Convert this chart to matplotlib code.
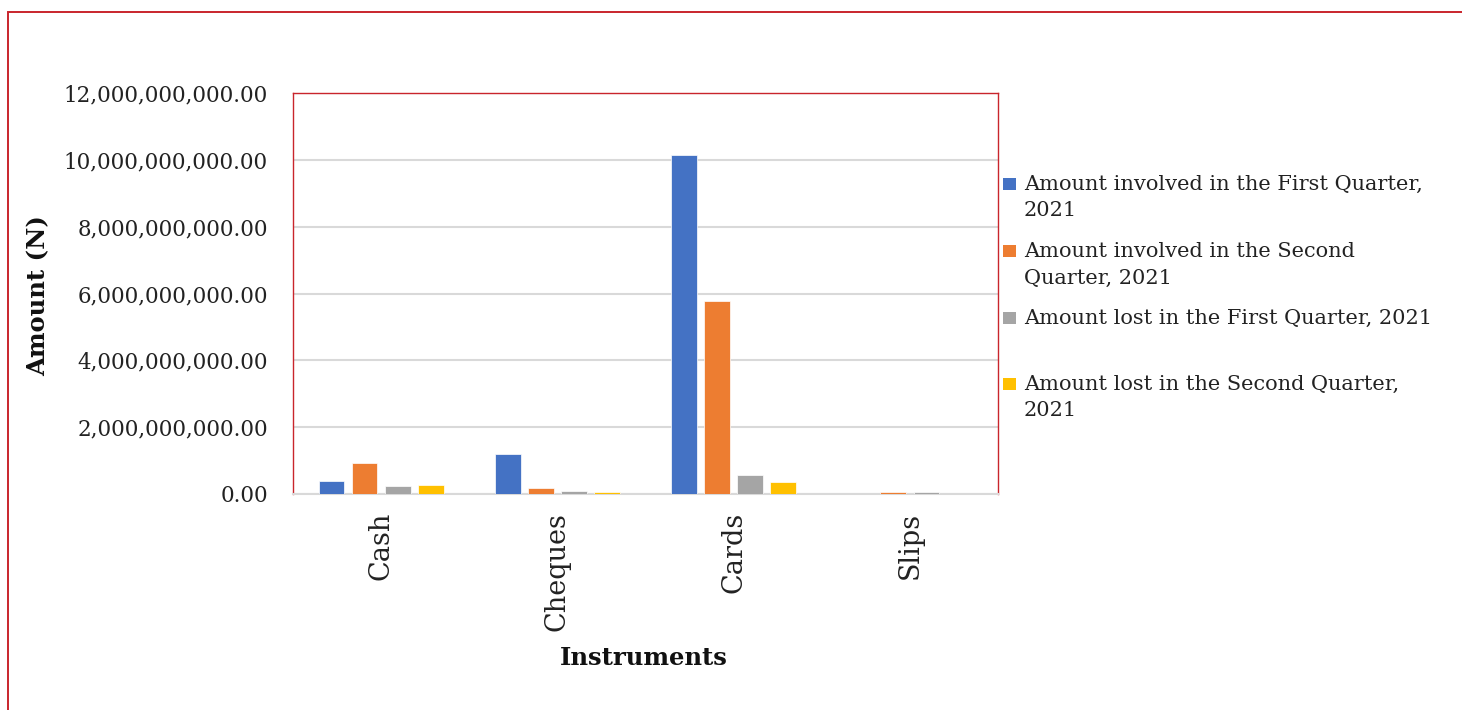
import matplotlib
matplotlib.use("Agg")
import matplotlib.pyplot as plt
from matplotlib.patches import Rectangle
from matplotlib.ticker import FuncFormatter, MultipleLocator
import numpy as np

# Fraud amounts by payment instrument (Naira)
instruments = ["Cash", "Cheques", "Cards", "Slips"]
involved_q1 = [0.40e9, 1.21e9, 10.15e9, 0.0]
involved_q2 = [0.93e9, 0.18e9, 5.78e9, 0.07e9]
lost_q1 = [0.23e9, 0.08e9, 0.56e9, 0.07e9]
lost_q2 = [0.28e9, 0.07e9, 0.35e9, 0.0]

series_labels = [
    "Amount involved in the First Quarter,\n2021",
    "Amount involved in the Second\nQuarter, 2021",
    "Amount lost in the First Quarter, 2021",
    "Amount lost in the Second Quarter,\n2021",
]
series_values = [involved_q1, involved_q2, lost_q1, lost_q2]
colors = ["#4472C4", "#ED7D31", "#A5A5A5", "#FFC000"]

W, H = 1462, 710
fig = plt.figure(figsize=(W / 100, H / 100), dpi=100)
fig.patch.set_facecolor("white")

serif = "DejaVu Serif"
red = "#C9252C"

# outer frame
fig.add_artist(Rectangle((8 / W, -0.05), 1.2, 1 - 12 / H + 0.05,
                         transform=fig.transFigure, fill=False,
                         edgecolor=red, linewidth=1.4))

ax = fig.add_axes([293 / W, 1 - 494 / H, (998 - 293) / W, (494 - 93) / H])

x = np.arange(len(instruments))
step = 0.188
width = 0.146
for i, (vals, col, lab) in enumerate(zip(series_values, colors, series_labels)):
    ax.bar(x + (i - 1.5) * step, vals, width=width, color=col,
           edgecolor="white", linewidth=0.5, label=lab, zorder=3)

ax.set_xlim(-0.5, len(instruments) - 0.5)
ax.set_ylim(0, 12e9)
ax.yaxis.set_major_locator(MultipleLocator(2e9))
ax.yaxis.set_major_formatter(FuncFormatter(lambda v, p: f"{v:,.2f}"))
ax.grid(axis="y", color="#D9D9D9", linewidth=1.5, zorder=0)
ax.set_axisbelow(True)

for side in ("left", "top", "right"):
    ax.spines[side].set_color(red)
    ax.spines[side].set_linewidth(1.0)
ax.spines["bottom"].set_color("#D9D9D9")
ax.spines["bottom"].set_linewidth(1.5)

ax.set_xticks(x)
ax.set_xticklabels(instruments, rotation=90, fontfamily=serif,
                   fontsize=19.5, color="#222222")
ax.tick_params(axis="x", length=0, pad=13)
ax.tick_params(axis="y", length=0, pad=18, labelsize=15.5,
               labelcolor="#222222")
for t in ax.get_yticklabels():
    t.set_fontfamily(serif)

ax.set_ylabel("Amount (N)", fontfamily=serif, fontsize=17.5,
              fontweight="bold", color="#111111")
ax.yaxis.set_label_coords(50 / W, 1 - 296 / H, transform=fig.transFigure)
ax.set_xlabel("Instruments", fontfamily=serif, fontsize=17.5,
              fontweight="bold", color="#111111")
ax.xaxis.set_label_coords(644 / W, 1 - 646 / H, transform=fig.transFigure)

# legend entries at the right of the plot area
marker_centers = [184, 251, 318, 384]
for lab, col, yc in zip(series_labels, colors, marker_centers):
    fig.add_artist(Rectangle((1003 / W, 1 - (yc + 6) / H), 13 / W, 12 / H,
                             transform=fig.transFigure, facecolor=col,
                             edgecolor="none"))
    fig.text(1024 / W, 1 - (yc - 9) / H, lab, fontfamily=serif,
             fontsize=15.0, color="#222222", va="top", ha="left",
             linespacing=1.5)

fig.savefig("out.png", dpi=100, facecolor="white")
